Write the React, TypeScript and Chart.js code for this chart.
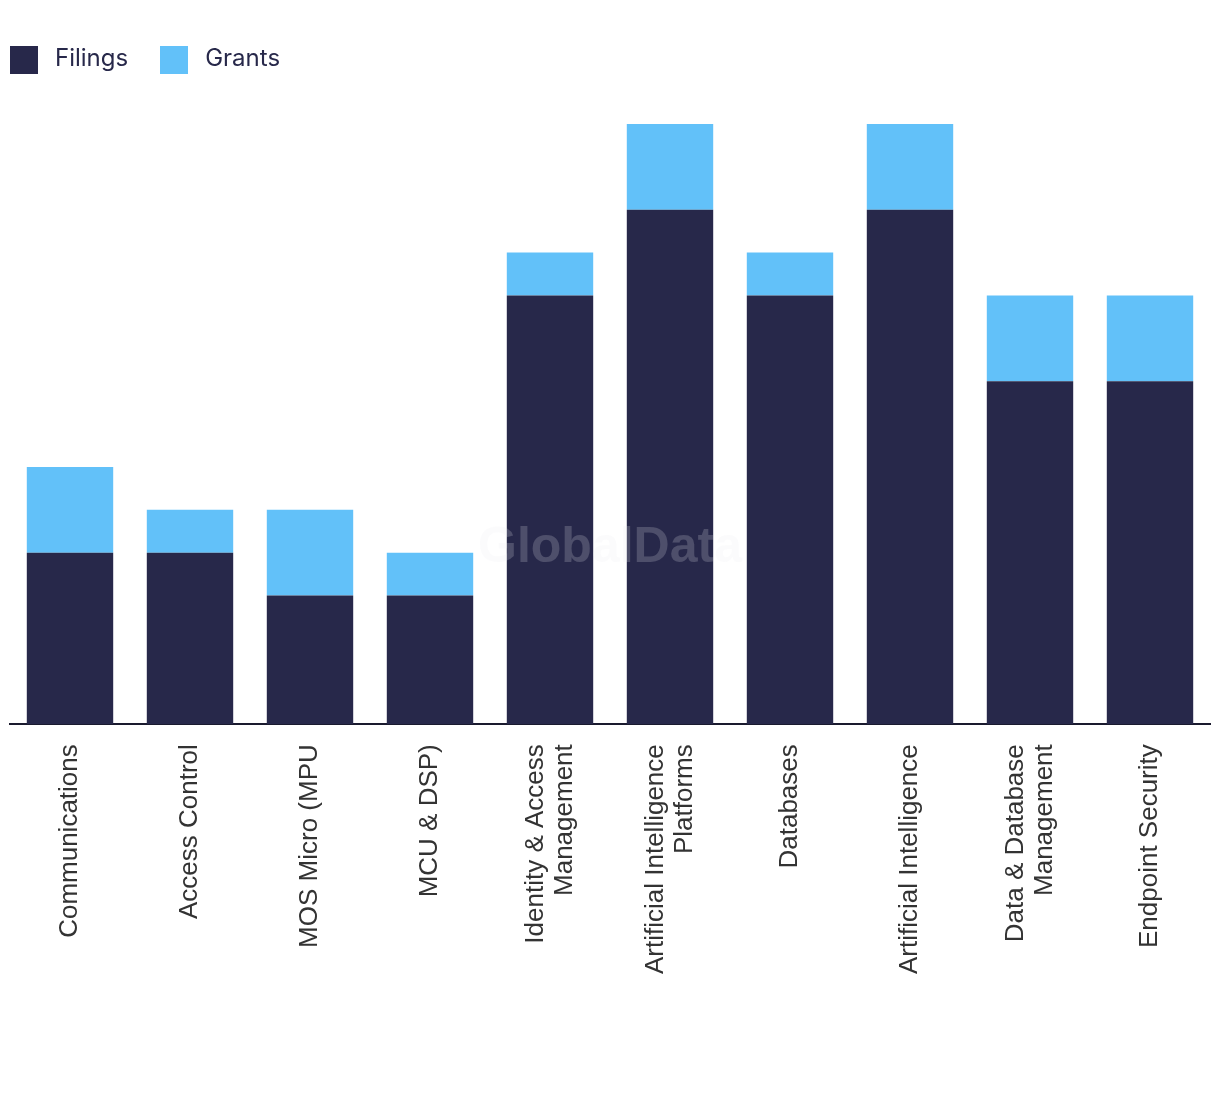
import React, { useEffect, useRef } from "react";
import { Chart, registerables } from "chart.js";

Chart.register(...registerables);

const categories: (string | string[])[] = [
  "Communications",
  "Access Control",
  "MOS Micro (MPU",
  "MCU & DSP)",
  ["Identity & Access", "Management"],
  ["Artificial Intelligence", "Platforms"],
  "Databases",
  "Artificial Intelligence",
  ["Data & Database", "Management"],
  "Endpoint Security",
];
const filings = [4, 4, 3, 3, 10, 12, 10, 12, 8, 8];
const grants = [2, 1, 2, 1, 1, 2, 1, 2, 2, 2];

const FILINGS_COLOR = "#27284a";
const GRANTS_COLOR = "#62c1f9";
const LABEL_SIZE = 26;
const LABEL_LH = 1.12;

const watermark = {
  id: "watermark",
  afterDatasetsDraw(chart: any) {
    const { ctx, chartArea } = chart;
    ctx.save();
    ctx.font = "bold 50px 'Liberation Sans', Arial, sans-serif";
    ctx.fillStyle = "rgba(235,235,240,0.2)";
    ctx.textAlign = "center";
    ctx.textBaseline = "middle";
    ctx.fillText("GlobalData", (chartArea.left + chartArea.right) / 2, 548);
    ctx.restore();
  },
};

// centre multi-line rotated tick labels on their ticks
const centerLabels = {
  id: "centerLabels",
  beforeDraw(chart: any) {
    const scale = chart.scales.x;
    const items = scale.getLabelItems(chart.chartArea);
    const lh = LABEL_SIZE * LABEL_LH;
    items.forEach((it: any) => {
      if (Array.isArray(it.label) && it.label.length > 1 && !it._shifted) {
        it.options.translation[0] -= ((it.label.length - 1) * lh) / 2;
        it._shifted = true;
      }
    });
  },
};

export default function App() {
  const ref = useRef<HTMLCanvasElement>(null);
  useEffect(() => {
    document.body.style.margin = "0";
    const chart = new Chart(ref.current!, {
      type: "bar",
      data: {
        labels: categories,
        datasets: [
          { label: "Filings", data: filings, backgroundColor: FILINGS_COLOR },
          { label: "Grants", data: grants, backgroundColor: GRANTS_COLOR },
        ],
      },
      options: {
        animation: false,
        responsive: false,
        layout: { padding: { top: 124, left: 10, right: 10, bottom: 100 } },
        plugins: { legend: { display: false }, tooltip: { enabled: false } },
        scales: {
          x: {
            stacked: true,
            barPercentage: 0.7,
            categoryPercentage: 1,
            grid: { display: false, drawTicks: false },
            border: { display: true, color: "#1a1a2e", width: 2 },
            ticks: {
              minRotation: 90,
              maxRotation: 90,
              padding: 20,
              color: "#333333",
              font: { family: "'Liberation Sans', Arial, sans-serif", size: LABEL_SIZE, lineHeight: LABEL_LH },
              autoSkip: false,
            },
          } as any,
          y: { stacked: true, min: 0, max: 14, display: false },
        },
      },
      plugins: [centerLabels, watermark],
    });
    return () => chart.destroy();
  }, []);
  const legendItem = (color: string, text: string) => (
    <div style={{ display: "flex", alignItems: "center", marginRight: 32 }}>
      <div style={{ width: 28, height: 28, background: color, marginRight: 17 }} />
      <span style={{ fontSize: 24, lineHeight: "28px", marginTop: -4, color: "#27284a", fontFamily: "Inter, 'Noto Sans', sans-serif" }}>{text}</span>
    </div>
  );
  return (
    <div style={{ position: "relative", width: 1220, height: 1094, background: "#fff" }}>
      <div style={{ position: "absolute", left: 10, top: 46, display: "flex", height: 28 }}>
        {legendItem(FILINGS_COLOR, "Filings")}
        {legendItem(GRANTS_COLOR, "Grants")}
      </div>
      <canvas ref={ref} width={1220} height={1094} style={{ display: "block" }} />
    </div>
  );
}
